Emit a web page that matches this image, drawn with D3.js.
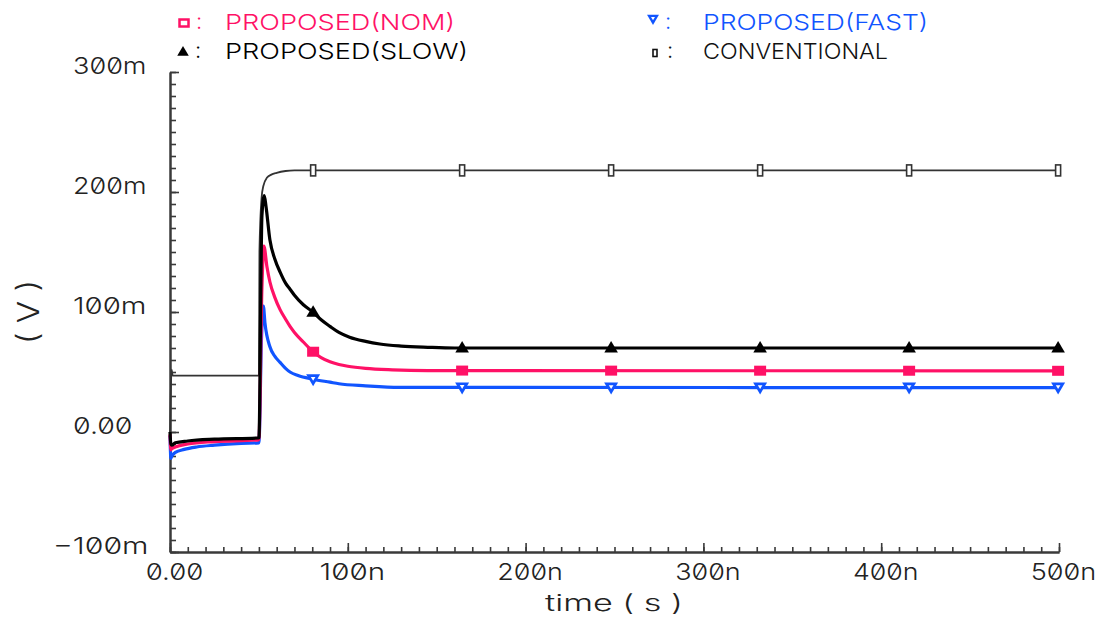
<!DOCTYPE html>
<html>
<head>
<meta charset="utf-8">
<script src="https://cdn.jsdelivr.net/npm/d3@7"></script>
<style>
  html, body { margin: 0; padding: 0; background: #fff; }
  svg text { font-family: Inter, "DejaVu Sans", sans-serif; font-weight: 300; font-feature-settings: "zero" 1; }
</style>
</head>
<body>
<svg id="chart" width="1103" height="621"></svg>
<script>
// Transient response: output voltage (mV) versus time (ns)

const seriesNames = ["PROPOSED(NOM)", "PROPOSED(FAST)", "PROPOSED(SLOW)", "CONVENTIONAL"];
const seriesColors = ["#ff1166", "#1155ff", "#000000", "#333333"];

const convT = [0, 0.4, 0.9, 1.5, 50, 50.3, 51.5, 52.5, 54.6, 57, 60, 65, 70, 80, 500];
const convV = [-3, 30, 52, 47, 47, 150, 195, 205, 212, 214.5, 216, 217.5, 218, 218, 218];

const slowT = [0, 0.5, 1, 3, 10, 25, 50, 51.7, 53, 54, 56.2, 59, 62, 65, 67.5, 70, 75, 80.4, 85, 90, 95, 101, 110, 118, 130, 145, 160, 500];
const slowV = [0, -10, -11, -9, -7.5, -6, -5, 180, 197, 188, 160, 144, 133, 124, 119, 114, 106, 100, 93.5, 88, 83, 79, 75.5, 73.3, 71.6, 70.6, 70, 70];

const nomT = [0, 0.5, 1, 3, 10, 25, 50, 51.7, 52.8, 54.5, 56.2, 59, 61.9, 65, 67.5, 70, 75, 80.4, 85, 90, 95, 100, 110, 125, 145, 500];
const nomV = [-2, -15, -14, -12.5, -10, -8, -6.5, 120, 155, 138, 125, 112, 102, 94, 88, 83, 75, 67, 62, 58.5, 56.3, 54.8, 53, 51.8, 51.2, 51];

const fastT = [0, 0.5, 1, 3, 8, 15, 25, 40, 50, 51.5, 52.5, 53.4, 56.2, 59, 61.9, 65, 67.5, 72, 80.4, 90, 95, 110, 129, 500];
const fastV = [-3, -22, -20, -17, -14.5, -12.5, -11, -9.5, -9, 80, 105, 91, 71, 63, 58, 53, 50, 47, 44, 41.5, 40.2, 38.5, 37.2, 37];

const markerT = [80.5, 164.3, 248.1, 331.9, 415.7, 499.5];

const yTicks = [-100, 0, 100, 200, 300];
const xTicks = [0, 100, 200, 300, 400, 500];

const series = [
  { name: seriesNames[0], color: seriesColors[0], t: nomT,  v: nomV,  width: 3.2, marker: "square" },
  { name: seriesNames[1], color: seriesColors[1], t: fastT, v: fastV, width: 3.2, marker: "triDown" },
  { name: seriesNames[2], color: seriesColors[2], t: slowT, v: slowV, width: 3.2, marker: "tri" },
  { name: seriesNames[3], color: seriesColors[3], t: convT, v: convV, width: 1.8, marker: "rect" }
];

const svg = d3.select("#chart");
const x = d3.scaleLinear().domain([0, 500]).range([170, 1059]);
const y = d3.scaleLinear().domain([-100, 300]).range([552, 72]);

// Axis formatting: milli-volts and nano-seconds
const fmtY = v => v === 0 ? "0.00" : (v < 0 ? "\u2212" : "") + Math.abs(v) + "m";
const fmtX = v => v === 0 ? "0.00" : v + "n";
const charW = { "m": 24, ".": 10, "\u2212": 22, "n": 18 };
const textW = s => Array.from(s).reduce((a, c) => a + (charW[c] !== undefined ? charW[c] : 16.5), 0);

const axisColor = "#3a3a3a";

// Y axis: minor ticks every 10m, major every 100m, all pointing into the plot
const yMinorG = svg.append("g").attr("transform", "translate(170,0)")
  .call(d3.axisLeft(y).tickValues(d3.range(-100, 301, 10)).tickSize(-6).tickSizeOuter(0).tickFormat(""));
const yMajorG = svg.append("g").attr("transform", "translate(170,0)")
  .call(d3.axisLeft(y).tickValues(yTicks).tickSize(-9).tickSizeOuter(0).tickFormat(fmtY));

// X axis
const xMinorG = svg.append("g").attr("transform", "translate(0,552)")
  .call(d3.axisBottom(x).tickValues(d3.range(0, 501, 10)).tickSize(-5).tickSizeOuter(0).tickFormat(""));
const xMajorG = svg.append("g").attr("transform", "translate(0,552)")
  .call(d3.axisBottom(x).tickValues(xTicks).tickSize(-9).tickSizeOuter(0).tickFormat(fmtX));

[yMinorG, yMajorG, xMinorG, xMajorG].forEach(g => {
  g.selectAll("path.domain").attr("stroke", axisColor).attr("stroke-width", 2);
  g.selectAll(".tick line").attr("stroke", axisColor).attr("stroke-width", 1.6);
});

yMajorG.selectAll(".tick text")
  .attr("text-anchor", "start")
  .attr("x", d => d < 0 ? -117 : -97)
  .attr("dy", null)
  .attr("y", 1)
  .attr("font-size", 23)
  .attr("fill", "#222")
  .attr("textLength", d => textW(fmtY(d)))
  .attr("lengthAdjust", "spacingAndGlyphs");

xMajorG.selectAll(".tick text")
  .attr("text-anchor", "middle")
  .attr("x", 4)
  .attr("dy", null)
  .attr("y", 28)
  .attr("font-size", 23)
  .attr("fill", "#222")
  .attr("textLength", d => textW(fmtX(d)) - 2)
  .attr("lengthAdjust", "spacingAndGlyphs");

// Axis titles
svg.append("text")
  .attr("x", 545).attr("y", 611)
  .attr("font-size", 23).attr("fill", "#222")
  .attr("textLength", 138).attr("lengthAdjust", "spacingAndGlyphs")
  .text("time ( s )");

svg.append("text")
  .attr("transform", "translate(39,344) rotate(-90)")
  .attr("font-size", 30).attr("fill", "#222")
  .attr("textLength", 64).attr("lengthAdjust", "spacingAndGlyphs")
  .text("( V )");

// Traces
const line = d3.line().x(d => x(d[0])).y(d => y(d[1])).curve(d3.curveMonotoneX);
const plot = svg.append("g");

// conventional (thin) first, then the proposed corners with slow on top
[3, 1, 0, 2].forEach(i => {
  const s = series[i];
  plot.append("path")
    .datum(d3.zip(s.t, s.v))
    .attr("fill", "none")
    .attr("stroke", s.color)
    .attr("stroke-width", s.width)
    .attr("stroke-linejoin", "round")
    .attr("d", line);
});

function valueAt(s, t) {
  const i = d3.bisectRight(s.t, t);
  if (i <= 0) return s.v[0];
  if (i >= s.t.length) return s.v[s.v.length - 1];
  const t0 = s.t[i - 1], t1 = s.t[i];
  const f = (t - t0) / (t1 - t0);
  return s.v[i - 1] + f * (s.v[i] - s.v[i - 1]);
}

function drawMarker(g, kind, cx, cy, color, scale) {
  const k = scale || 1;
  if (kind === "rect") {
    g.append("rect").attr("x", cx - 2.5 * k).attr("y", cy - 5.5 * k)
      .attr("width", 5 * k).attr("height", 11 * k)
      .attr("fill", "#fff").attr("stroke", color).attr("stroke-width", 1.6);
  } else if (kind === "square") {
    g.append("rect").attr("x", cx - 6 * k).attr("y", cy - 5 * k)
      .attr("width", 12 * k).attr("height", 10 * k).attr("fill", color);
  } else if (kind === "tri") {
    g.append("path")
      .attr("d", `M${cx},${cy - 7 * k}L${cx + 6.8 * k},${cy + 4.5 * k}L${cx - 6.8 * k},${cy + 4.5 * k}Z`)
      .attr("fill", color);
  } else if (kind === "triDown") {
    g.append("path")
      .attr("d", `M${cx - 7 * k},${cy - 5 * k}L${cx + 7 * k},${cy - 5 * k}L${cx},${cy + 7 * k}Z`)
      .attr("fill", color);
    g.append("path")
      .attr("d", `M${cx - 2.3 * k},${cy - 2.3 * k}L${cx + 2.3 * k},${cy - 2.3 * k}L${cx},${cy + 1.5 * k}Z`)
      .attr("fill", "#fff");
  }
}

const markG = svg.append("g");
[3, 1, 0, 2].forEach(i => {
  const s = series[i];
  markerT.forEach(t => drawMarker(markG, s.marker, x(t), y(valueAt(s, t)), s.color));
});

// Legend
const legend = svg.append("g");
const legendItems = [
  { s: series[0], mx: 184, my: 23, tx: 225, ty: 30, w: 230 },
  { s: series[2], mx: 183, my: 52, tx: 225, ty: 59, w: 243 },
  { s: series[1], mx: 653, my: 19, tx: 703, ty: 30, w: 225 },
  { s: series[3], mx: 655, my: 53, tx: 703, ty: 59, w: 185 }
];
legendItems.forEach(it => {
  const c = it.s.color === "#333333" ? "#111" : it.s.color;
  if (it.s.marker === "square") {
    legend.append("rect").attr("x", it.mx - 4.5).attr("y", it.my - 3.5).attr("width", 9).attr("height", 7)
      .attr("fill", "#fff").attr("stroke", c).attr("stroke-width", 2.5);
  } else if (it.s.marker === "rect") {
    legend.append("rect").attr("x", it.mx - 2).attr("y", it.my - 3.5).attr("width", 4).attr("height", 7)
      .attr("fill", "#fff").attr("stroke", c).attr("stroke-width", 1.6);
  } else {
    drawMarker(legend, it.s.marker, it.mx, it.my, c, 0.85);
  }
  legend.append("text").attr("x", it.mx + 12).attr("y", it.ty - 1)
    .attr("font-size", 22).attr("fill", c).text(":");
  legend.append("text").attr("x", it.tx).attr("y", it.ty)
    .attr("font-size", 22).attr("fill", c)
    .attr("textLength", it.w).attr("lengthAdjust", "spacingAndGlyphs")
    .text(it.s.name);
});
</script>
</body>
</html>
